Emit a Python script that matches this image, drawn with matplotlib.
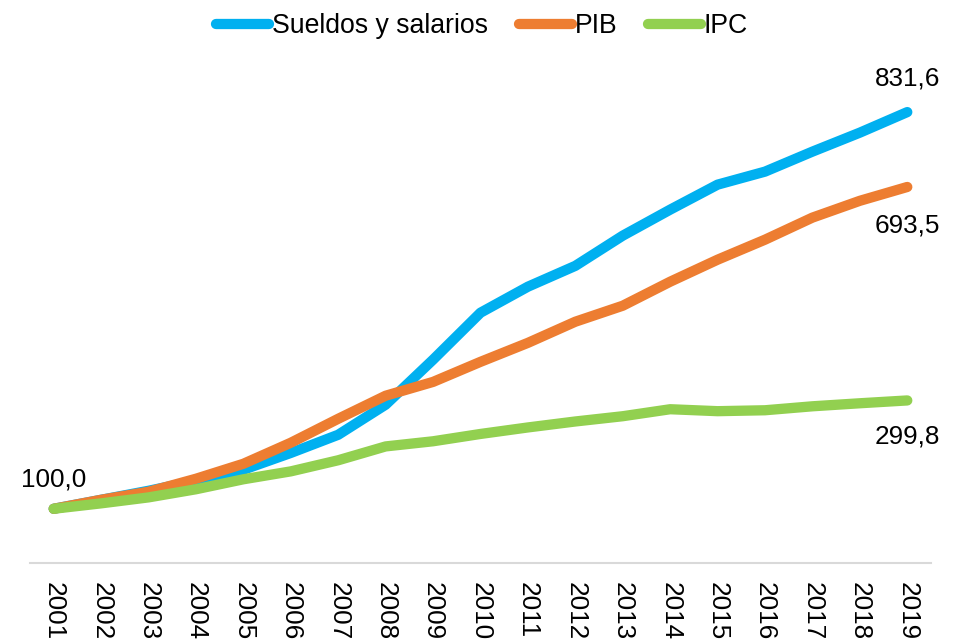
import matplotlib.pyplot as plt

plt.rcParams['font.family'] = ['Liberation Sans', 'DejaVu Sans']

# Data (index 2001 = 100)
years = [str(y) for y in range(2001, 2020)]
sueldos = [100.0, 116.6, 133.2, 151.7, 172.0, 203.0, 236.5, 292.0, 375.0, 461.6,
           509.6, 548.0, 603.7, 651.7, 697.8, 721.8, 758.7, 793.7, 831.6]
pib = [100.0, 116.6, 131.4, 155.4, 183.0, 221.8, 266.0, 308.5, 334.0, 371.0,
       406.0, 445.0, 474.5, 518.8, 559.4, 596.3, 637.0, 668.0, 693.5]
ipc = [100.0, 110.0, 121.0, 136.0, 154.4, 169.0, 189.5, 215.0, 224.5, 238.0,
       250.0, 261.0, 270.7, 283.6, 280.0, 281.7, 289.0, 294.6, 299.8]

series = [('Sueldos y salarios', sueldos, '#00B0F0'),
          ('PIB', pib, '#ED7D31'),
          ('IPC', ipc, '#92D050')]

fig = plt.figure(figsize=(9.64, 6.41), dpi=100)
ax = fig.add_axes([30 / 964, 78 / 641, 901 / 964, 488 / 641])

x = list(range(len(years)))
for name, vals, col in series:
    ax.plot(x, vals, color=col, lw=7.4, solid_capstyle='round',
            solid_joinstyle='round', label=name)

ax.set_xlim(-0.5, len(years) - 0.5)
ax.set_ylim(0, 900)
ax.set_yticks([])
ax.set_xticks(x)
ax.set_xticklabels(years, rotation=-90, fontsize=18.8, va='top')
ax.tick_params(axis='x', length=0, pad=13.5)
for s in ['top', 'right', 'left']:
    ax.spines[s].set_visible(False)
ax.spines['bottom'].set_color('#D9D9D9')
ax.spines['bottom'].set_linewidth(1.5)

def fmt(v):
    return f'{v:.1f}'.replace('.', ',')

ax.annotate(fmt(sueldos[0]), (0, sueldos[0]), xytext=(0, 21), textcoords='offset points',
            ha='center', va='center', fontsize=18.8)
ax.annotate(fmt(sueldos[-1]), (x[-1], sueldos[-1]), xytext=(0, 24), textcoords='offset points',
            ha='center', va='center', fontsize=18.8)
ax.annotate(fmt(pib[-1]), (x[-1], pib[-1]), xytext=(0, -28), textcoords='offset points',
            ha='center', va='center', fontsize=18.8)
ax.annotate(fmt(ipc[-1]), (x[-1], ipc[-1]), xytext=(0, -26), textcoords='offset points',
            ha='center', va='center', fontsize=18.8)

fig.legend(loc='center', bbox_to_anchor=(0.5, 1 - 26 / 641), ncol=3, frameon=False,
           fontsize=19.2, handlelength=2.0, handletextpad=0.1, columnspacing=1.15,
           borderaxespad=0)

fig.savefig('out.png', dpi=100)
